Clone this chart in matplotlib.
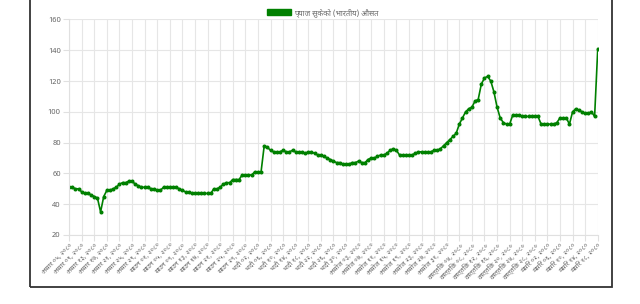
import numpy as np
import matplotlib.pyplot as plt
from matplotlib.patches import Patch, Rectangle

plt.rcParams['font.family'] = ['Noto Sans Devanagari', 'Lohit Devanagari', 'FreeSans', 'DejaVu Sans']

# daily average price (Indian dry onion)
prices = [51, 51, 50, 50, 48, 47, 47, 46, 45, 44,
          35, 45, 49, 49, 50, 51, 53, 54, 54, 55,
          55, 53, 52, 51, 51, 51, 50, 50, 49, 49,
          51, 51, 51, 51, 51, 50, 49, 48, 48, 47,
          47, 47, 47, 47, 47, 47, 50, 50, 51, 53,
          54, 54, 56, 56, 56, 59, 59, 59, 59, 61,
          61, 61, 78, 77, 75, 74, 74, 74, 75, 74,
          74, 75, 74, 74, 74, 73, 74, 74, 73, 72,
          72, 71, 70, 69, 68, 67, 67, 66, 66, 66,
          67, 67, 68, 67, 67, 69, 70, 70, 71, 72,
          72, 73, 75, 76, 75, 72, 72, 72, 72, 72,
          73, 74, 74, 74, 74, 74, 75, 75, 76, 78,
          80, 82, 84, 86, 92, 96, 100, 102, 103, 107,
          108, 118, 122, 123, 120, 113, 103, 96, 93, 92,
          92, 98, 98, 98, 97, 97, 97, 97, 97, 97,
          92, 92, 92, 92, 92, 93, 96, 96, 96, 92,
          100, 102, 101, 100, 99, 99, 100, 97, 141]

tick_labels = ['असार ०५, २०८०', 'असार ०९, २०८०', 'असार १३, २०८०', 'असार १७, २०८०',
               'असार २१, २०८०', 'असार २५, २०८०', 'असार २९, २०८०', 'साउन ०१, २०८०',
               'साउन ०५, २०८०', 'साउन ०९, २०८०', 'साउन १३, २०८०', 'साउन १७, २०८०',
               'साउन २१, २०८०', 'साउन २५, २०८०', 'साउन २९, २०८०', 'भदौ ०२, २०८०',
               'भदौ ०६, २०८०', 'भदौ १०, २०८०', 'भदौ १४, २०८०', 'भदौ १८, २०८०',
               'भदौ २२, २०८०', 'भदौ २६, २०८०', 'भदौ ३०, २०८०', 'असोज ०३, २०८०',
               'असोज ०७, २०८०', 'असोज ११, २०८०', 'असोज १५, २०८०', 'असोज १९, २०८०',
               'असोज २३, २०८०', 'असोज २७, २०८०', 'असोज ३१, २०८०', 'कात्तिक ०४, २०८०',
               'कात्तिक ०८, २०८०', 'कात्तिक १२, २०८०', 'कात्तिक १६, २०८०', 'कात्तिक २०, २०८०',
               'कात्तिक २४, २०८०', 'कात्तिक २८, २०८०', 'मंसिर ०२, २०८०', 'मंसिर ०६, २०८०',
               'मंसिर १०, २०८०', 'मंसिर १४, २०८०', 'मंसिर १८, २०८०']
tick_step = 4

series_name = 'प्याज सुकेको (भारतीय) औसत'

x = np.arange(len(prices))

fig = plt.figure(figsize=(6.4, 3.04), dpi=100)
ax = fig.add_axes([0.108, 0.227, 0.826, 0.709])

ax.plot(x, prices, color='#008000', linewidth=1.2, marker='o', markersize=1.9)

ax.set_xlim(0, len(prices) - 1)
ax.set_ylim(20, 160)
ax.set_yticks(range(20, 161, 20))
ax.set_xticks(x[::tick_step][:len(tick_labels)])
ax.set_xticklabels(tick_labels, rotation=45, ha='right', rotation_mode='anchor')

ax.grid(True, color='#e6e6e6', linewidth=0.8)
ax.tick_params(axis='both', colors='#e0e0e0', length=4, width=0.8, labelcolor='#666666')
ax.tick_params(axis='x', labelsize=4.9, pad=1)
ax.tick_params(axis='y', labelsize=5.6, pad=2)
for side in ['top', 'right']:
    ax.spines[side].set_visible(False)
for side in ['left', 'bottom']:
    ax.spines[side].set_color('#e0e0e0')
    ax.spines[side].set_linewidth(0.8)

fig.legend(handles=[Patch(facecolor='#008000', edgecolor='#008000')], labels=[series_name],
           loc='center', bbox_to_anchor=(0.504, 0.96), frameon=False,
           fontsize=5.5, labelcolor='#666666', handlelength=3.2, handleheight=0.9,
           handletextpad=0.4)

# outer frame of the page widget
fig.add_artist(Rectangle((30 / 640, 17 / 304), 582 / 640, 1.2, transform=fig.transFigure,
                         fill=False, edgecolor='#333333', linewidth=1.3))

fig.savefig('out.png', dpi=100)
